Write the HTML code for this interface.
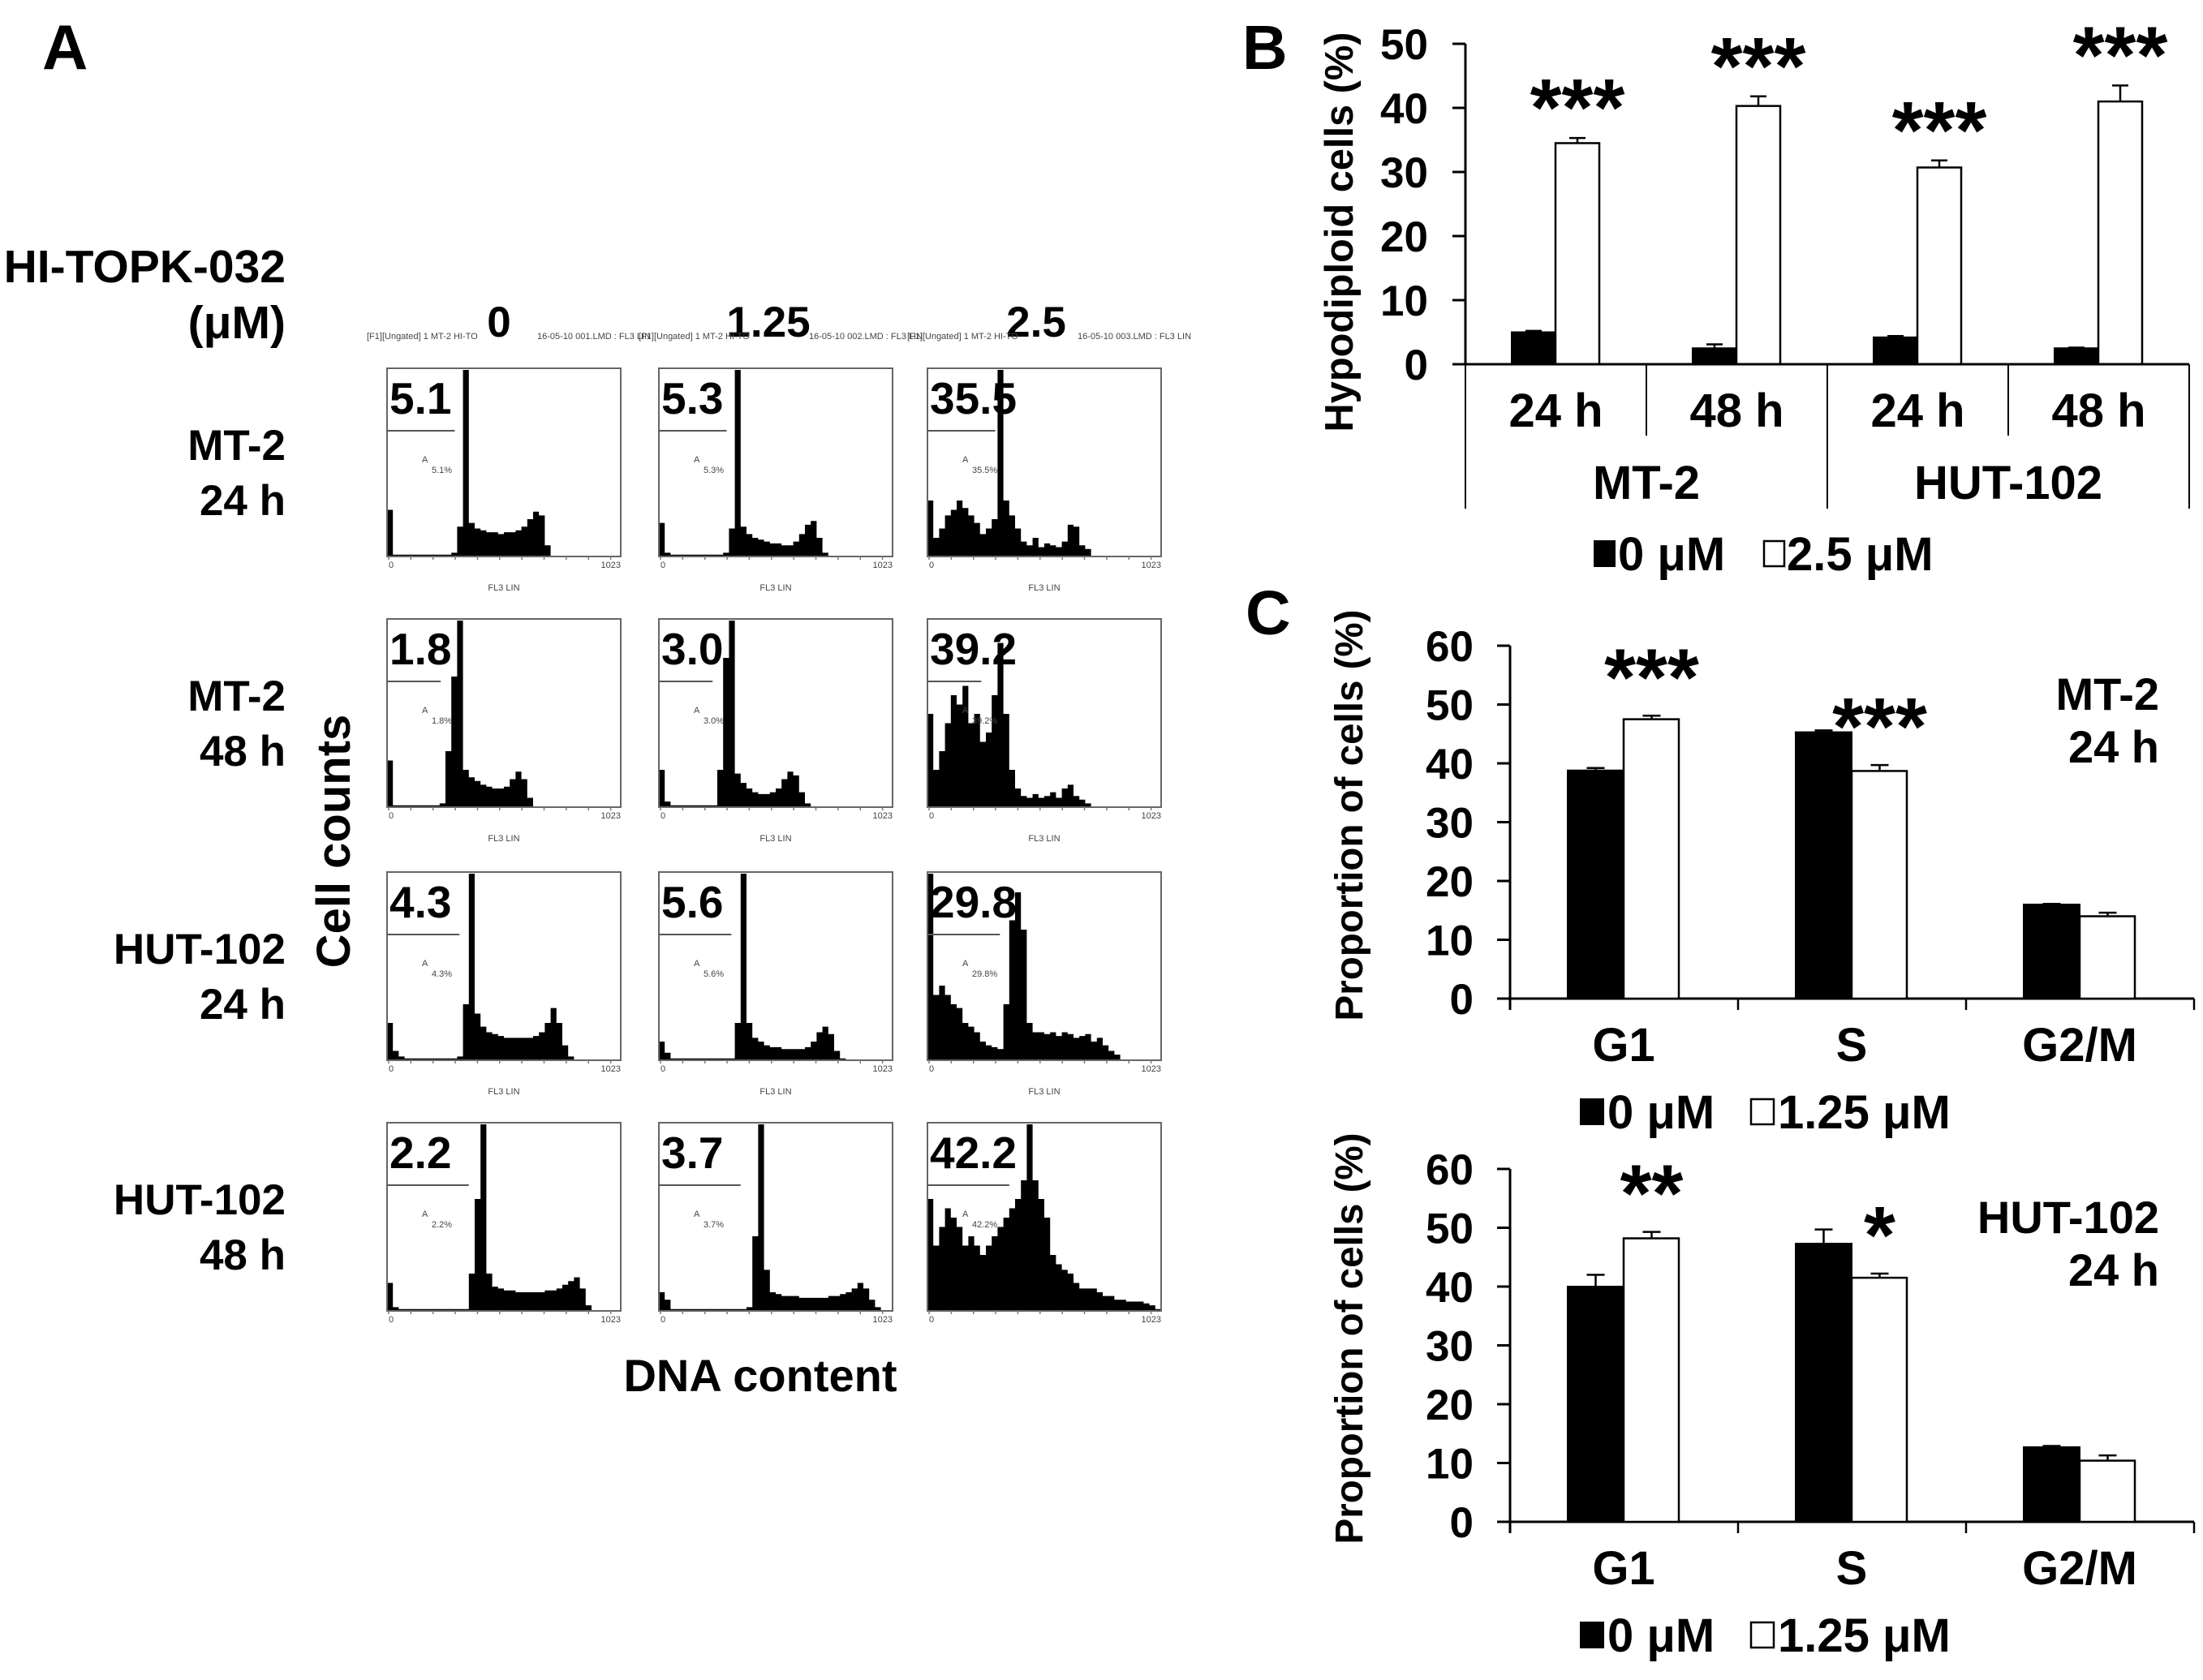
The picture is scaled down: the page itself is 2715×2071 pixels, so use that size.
<!DOCTYPE html>
<html><head><meta charset="utf-8"><style>
html,body{margin:0;padding:0;background:#fff;}
svg text{font-family:"Liberation Sans",Arial,sans-serif;font-weight:bold;fill:#000;}
.tiny{font-size:11px;font-weight:normal;fill:#444;}
</style></head><body>
<svg id="fig" width="2715" height="2066" viewBox="0 0 2715 2066" xmlns="http://www.w3.org/2000/svg">
<rect x="0" y="0" width="2715" height="2066" fill="#fff"/>
<text x="52" y="85" font-size="78">A</text>
<text x="352" y="348" font-size="57" text-anchor="end">HI-TOPK-032</text>
<text x="352" y="417" font-size="57" text-anchor="end">(μM)</text>
<text x="411" y="1037" font-size="58" text-anchor="middle" transform="rotate(-90 411 1037)" dy="20">Cell counts</text>
<text x="937" y="1715" font-size="56" text-anchor="middle">DNA content</text>
<g id="panelA"></g>
<text x="1531" y="85" font-size="77">B</text>
<text x="1650" y="286" font-size="49" text-anchor="middle" dy="17" transform="rotate(-90 1650 286)" textLength="493" lengthAdjust="spacingAndGlyphs">Hypodiploid cells (%)</text>
<g id="panelB"></g>
<text x="1535" y="782" font-size="77">C</text>
<g id="panelC1"></g>
<g id="panelC2"></g>
</svg>
<script>
const NS='http://www.w3.org/2000/svg';
const doseLabels=['0','1.25','2.5'];
const rowCells=['MT-2','MT-2','HUT-102','HUT-102'];
const rowTimes=['24 h','48 h','24 h','48 h'];
const hypoLabels=[['5.1','5.3','35.5'],['1.8','3.0','39.2'],['4.3','5.6','29.8'],['2.2','3.7','42.2']];
const gateEnds=[0.29,0.23,0.31,0.35];
const histR1C1=[.25,.01,.01,.01,.01,.01,.01,.01,.01,.01,.01,.02,.16,1,.18,.15,.14,.13,.13,.12,.13,.13,.14,.16,.2,.24,.22,.06,0,0,0,0,0,0,0,0,0,0,0,0];
const histR1C2=[.18,.02,.01,.01,.01,.01,.01,.01,.01,.01,.01,.02,.15,1,.16,.12,.1,.09,.08,.07,.07,.06,.06,.08,.12,.17,.19,.1,.02,0,0,0,0,0,0,0,0,0,0,0];
const histR1C3=[.3,.1,.15,.22,.25,.3,.26,.22,.18,.12,.15,.2,1,.3,.22,.15,.08,.06,.1,.05,.07,.06,.05,.08,.17,.16,.06,.04,0,0,0,0,0,0,0,0,0,0,0,0];
const histR2C1=[.25,.01,.01,.01,.01,.01,.01,.01,.01,.02,.3,.7,1,.2,.16,.14,.12,.11,.1,.1,.11,.15,.19,.15,.05,0,0,0,0,0,0,0,0,0,0,0,0,0,0,0];
const histR2C2=[.2,.03,.01,.01,.01,.01,.01,.01,.01,.01,.2,.8,1,.18,.13,.1,.08,.07,.07,.08,.1,.15,.19,.17,.08,.02,0,0,0,0,0,0,0,0,0,0,0,0,0,0];
const histR2C3=[.5,.2,.3,.45,.6,.55,.65,.45,.5,.35,.4,.6,.88,.5,.2,.1,.06,.05,.07,.05,.06,.08,.05,.1,.12,.06,.04,.02,0,0,0,0,0,0,0,0,0,0,0,0];
const histR3C1=[.2,.05,.02,.01,.01,.01,.01,.01,.01,.01,.01,.01,.02,.3,1,.25,.18,.15,.14,.13,.12,.12,.12,.12,.12,.13,.15,.2,.28,.2,.08,.02,0,0,0,0,0,0,0,0];
const histR3C2=[.1,.04,.01,.01,.01,.01,.01,.01,.01,.01,.01,.01,.01,.2,1,.2,.12,.1,.08,.07,.07,.06,.06,.06,.06,.07,.1,.15,.18,.14,.05,.01,0,0,0,0,0,0,0,0];
const histR3C3=[1,.35,.4,.35,.3,.28,.2,.18,.15,.1,.08,.07,.06,.3,.75,.9,.7,.2,.15,.15,.14,.15,.13,.15,.14,.12,.13,.14,.1,.12,.08,.05,.03,0,0,0,0,0,0,0];
const histR4C1=[.15,.02,.01,.01,.01,.01,.01,.01,.01,.01,.01,.01,.01,.01,.2,.6,1,.2,.13,.12,.11,.11,.1,.1,.1,.1,.1,.11,.11,.12,.14,.16,.18,.12,.03,0,0,0,0,0];
const histR4C2=[.1,.06,.01,.01,.01,.01,.01,.01,.01,.01,.01,.01,.01,.01,.01,.02,.4,1,.22,.1,.09,.08,.08,.08,.07,.07,.07,.07,.07,.08,.08,.09,.1,.12,.15,.12,.06,.02,0,0];
const histR4C3=[.6,.35,.45,.55,.5,.45,.35,.4,.35,.3,.35,.4,.45,.5,.55,.6,.7,1,.7,.6,.5,.3,.25,.22,.2,.15,.12,.12,.12,.1,.08,.08,.06,.06,.05,.05,.05,.04,.03,.01];
const histSets=[[histR1C1,histR1C2,histR1C3],[histR2C1,histR2C2,histR2C3],[histR3C1,histR3C2,histR3C3],[histR4C1,histR4C2,histR4C3]];

const bTimes=['24 h','48 h','24 h','48 h'];
const bCells=['MT-2','HUT-102'];
const bCtrl=[5,2.5,4.2,2.5];
const bCtrlErr=[0.2,0.6,0.2,0.1];
const bTreat=[34.5,40.3,30.7,41];
const bTreatErr=[0.8,1.5,1.1,2.5];
const bStars=['***','***','***','***'];
const bTicks=[0,10,20,30,40,50];
const bLegend=['0 μM','2.5 μM'];

const cPhases=['G1','S','G2/M'];
const cTicks=[0,10,20,30,40,50,60];
const cLegend=['0 μM','1.25 μM'];
const c1Ctrl=[38.8,45.3,16];
const c1CtrlErr=[0.4,0.3,0.1];
const c1Treat=[47.5,38.7,14];
const c1TreatErr=[0.6,1.0,0.6];
const c1Stars=['***','***',''];
const c2Ctrl=[40,47.3,12.7];
const c2CtrlErr=[2,2.4,0.2];
const c2Treat=[48.2,41.5,10.4];
const c2TreatErr=[1.1,0.7,0.9];
const c2Stars=['**','*',''];

function mk(parent,tag,attrs,txt){
  const e=document.createElementNS(NS,tag);
  for(const k in attrs) e.setAttribute(k,attrs[k]);
  if(txt!==undefined) e.textContent=txt;
  parent.appendChild(e);
  return e;
}

(function(){
  const g=document.getElementById('panelA');
  const boxX=[477,812,1143], boxY=[454,763,1075,1384], BW=288, BH=232;
  const colCx=[615,947,1277];
  doseLabels.forEach((d,i)=>{
    const t=mk(g,'text',{x:colCx[i],y:415,'font-size':53,'text-anchor':'middle'},d);
    
    
    const t1=mk(g,'text',{x:boxX[i]-25,y:418,class:'tiny'},'[F1][Ungated] 1 MT-2 HI-TO');
    
    
    const t2=mk(g,'text',{x:boxX[i]+185,y:418,class:'tiny'},'16-05-10 00'+(i+1)+'.LMD : FL3 LIN');
    
    
  });
  rowCells.forEach((c,r)=>{
    const t=mk(g,'text',{x:352,y:boxY[r]+113,'font-size':53,'text-anchor':'end'},c);
    
    
    const t2=mk(g,'text',{x:352,y:boxY[r]+181,'font-size':53,'text-anchor':'end'},rowTimes[r]);
    
    
    for(let c2=0;c2<3;c2++){
      const x0=boxX[c2], y0=boxY[r];
      const vals=histSets[r][c2];
      const n=vals.length, bw=BW/n;
      let d='M'+x0+','+(y0+BH);
      vals.forEach((v,k)=>{
        const yy=y0+BH-v*(BH-2);
        d+=' L'+(x0+k*bw).toFixed(1)+','+yy.toFixed(1)+' L'+(x0+(k+1)*bw).toFixed(1)+','+yy.toFixed(1);
      });
      d+=' L'+(x0+BW)+','+(y0+BH)+' Z';
      const p=mk(g,'path',{d:d,fill:'#000',stroke:'none'});
      
      
      const b=mk(g,'rect',{x:x0,y:y0,width:BW,height:BH,fill:'none',stroke:'#666','stroke-width':2});
      
      
      for(let k=0;k<=10;k++){
        const tk=mk(g,'line',{x1:x0+k*BW/10*0.95+2,x2:x0+k*BW/10*0.95+2,y1:y0+BH,y2:y0+BH+4,stroke:'#777','stroke-width':1.5});
        
        
      }
      const gl=mk(g,'line',{x1:x0,x2:x0+BW*gateEnds[r],y1:y0+77,y2:y0+77,stroke:'#555','stroke-width':2});
      
      
      const num=mk(g,'text',{x:x0+3,y:y0+56,'font-size':55},hypoLabels[r][c2]);
      
      
      const a=mk(g,'text',{x:x0+43,y:y0+116,class:'tiny'},'A');
      
      
      const ap=mk(g,'text',{x:x0+55,y:y0+129,class:'tiny'},hypoLabels[r][c2]+'%');
      
      
      const z=mk(g,'text',{x:x0+2,y:y0+BH+14,class:'tiny'},'0');
      
      
      const mx=mk(g,'text',{x:x0+BW,y:y0+BH+14,class:'tiny','text-anchor':'end'},'1023');
      
      
      if(r<3){
        const fl=mk(g,'text',{x:x0+BW/2,y:y0+BH+42,class:'tiny','text-anchor':'middle'},'FL3 LIN');
        
        
      }
    }
  });
})();

(function(){
  const g=document.getElementById('panelB');
  const ax=1806, y0=449, ppu=7.9, gw=223, bw=54;
  const ys=v=>y0-v*ppu;
  const axl=mk(g,'line',{x1:ax,x2:ax,y1:ys(50),y2:y0,stroke:'#000','stroke-width':3});
  
  
  bTicks.forEach(t=>{
    const l=mk(g,'line',{x1:ax-16,x2:ax,y1:ys(t),y2:ys(t),stroke:'#000','stroke-width':3});
    
    
    const tx=mk(g,'text',{x:1760,y:ys(t)+19,'font-size':53,'text-anchor':'end'},String(t));
    
    
  });
  bTimes.forEach((tm,i)=>{
    const gs=ax+i*gw;
    const bc=mk(g,'rect',{x:gs+57,y:ys(bCtrl[i]),width:bw,height:bCtrl[i]*ppu,fill:'#000',stroke:'#000','stroke-width':2});
    
    
    const bt=mk(g,'rect',{x:gs+57+bw,y:ys(bTreat[i]),width:bw,height:bTreat[i]*ppu,fill:'#fff',stroke:'#000','stroke-width':2.5});
    
    
    [[bCtrl[i],bCtrlErr[i],gs+57+bw/2],[bTreat[i],bTreatErr[i],gs+57+bw*1.5]].forEach(([v,e,cx])=>{
      const el=mk(g,'path',{d:`M${cx},${ys(v)} V${ys(v+e)} M${cx-10},${ys(v+e)} H${cx+10}`,stroke:'#000','stroke-width':2.5,fill:'none'});
      
      
    });
    const st=mk(g,'text',{x:gs+57+bw*1.5,y:ys(bTreat[i]+bTreatErr[i])-3,'font-size':100,'text-anchor':'middle'},bStars[i]);
    
    
    const lb=mk(g,'text',{x:gs+gw/2,y:526,'font-size':58,'text-anchor':'middle'},tm);
    
    
    const sep=mk(g,'line',{x1:gs+gw,x2:gs+gw,y1:y0,y2:(i%2===1)?627:537,stroke:'#000','stroke-width':2});
    
    
  });
  const left=mk(g,'line',{x1:ax,x2:ax,y1:y0,y2:627,stroke:'#000','stroke-width':2});
  
  
  const xl=mk(g,'line',{x1:1790,x2:ax+4*gw,y1:y0,y2:y0,stroke:'#000','stroke-width':3});
  
  
  bCells.forEach((c,i)=>{
    const t=mk(g,'text',{x:ax+gw*(2*i+1),y:615,'font-size':58,'text-anchor':'middle'},c);
    
    
  });
  const s1=mk(g,'rect',{x:1964,y:666,width:27,height:33,fill:'#000'});
  
  
  const l1=mk(g,'text',{x:1994,y:703,'font-size':58},bLegend[0]);
  
  
  const s2=mk(g,'rect',{x:2174,y:667,width:25,height:31,fill:'#fff',stroke:'#000','stroke-width':2.5});
  
  
  const l2=mk(g,'text',{x:2202,y:703,'font-size':58},bLegend[1]);
  
  
})();

function drawC(id,y0,ctrl,ctrlErr,treat,treatErr,stars,cell){
  const g=document.getElementById(id);
  const ax=1861, ppu=7.25, gw=281, bw=69;
  const ys=v=>y0-v*ppu;
  const t=mk(g,'text',{x:1662,y:y0-226,'font-size':48,'text-anchor':'middle',dy:17,transform:`rotate(-90 1662 ${y0-226})`,textLength:507,lengthAdjust:'spacingAndGlyphs'},'Proportion of cells (%)');
  
  
  const axl=mk(g,'line',{x1:ax,x2:ax,y1:ys(60),y2:y0+14,stroke:'#000','stroke-width':3});
  
  
  cTicks.forEach(v=>{
    const l=mk(g,'line',{x1:ax-16,x2:ax,y1:ys(v),y2:ys(v),stroke:'#000','stroke-width':3});
    
    
    const tx=mk(g,'text',{x:1816,y:ys(v)+19,'font-size':53,'text-anchor':'end'},String(v));
    
    
  });
  const xl=mk(g,'line',{x1:1845,x2:ax+3*gw,y1:y0,y2:y0,stroke:'#000','stroke-width':3});
  
  
  cPhases.forEach((p,i)=>{
    const gs=ax+i*gw;
    const tk=mk(g,'line',{x1:gs+gw,x2:gs+gw,y1:y0,y2:y0+14,stroke:'#000','stroke-width':2.5});
    
    
    const bc=mk(g,'rect',{x:gs+71,y:ys(ctrl[i]),width:bw,height:ctrl[i]*ppu,fill:'#000',stroke:'#000','stroke-width':2});
    
    
    const bt=mk(g,'rect',{x:gs+71+bw,y:ys(treat[i]),width:bw-1,height:treat[i]*ppu,fill:'#fff',stroke:'#000','stroke-width':2.5});
    
    
    [[ctrl[i],ctrlErr[i],gs+71+bw/2],[treat[i],treatErr[i],gs+71+bw*1.5]].forEach(([v,e,cx])=>{
      const el=mk(g,'path',{d:`M${cx},${ys(v)} V${ys(v+e)} M${cx-11},${ys(v+e)} H${cx+11}`,stroke:'#000','stroke-width':2.5,fill:'none'});
      
      
    });
    if(stars[i]){
      const st=mk(g,'text',{x:gs+71+bw*1.5,y:ys(treat[i]+treatErr[i])-13,'font-size':100,'text-anchor':'middle'},stars[i]);
      
      
    }
    const lb=mk(g,'text',{x:gs+71+bw,y:y0+77,'font-size':58,'text-anchor':'middle'},p);
    
    
  });
  const cl=mk(g,'text',{x:2661,y:y0-356,'font-size':56,'text-anchor':'end'},cell);
  
  
  const tl=mk(g,'text',{x:2661,y:y0-291,'font-size':56,'text-anchor':'end'},'24 h');
  
  
  const s1=mk(g,'rect',{x:1947,y:y0+123,width:30,height:33,fill:'#000'});
  
  
  const l1=mk(g,'text',{x:1981,y:y0+160,'font-size':58},cLegend[0]);
  
  
  const s2=mk(g,'rect',{x:2158,y:y0+124,width:28,height:31,fill:'#fff',stroke:'#000','stroke-width':2.5});
  
  
  const l2=mk(g,'text',{x:2191,y:y0+160,'font-size':58},cLegend[1]);
  
  
}
drawC('panelC1',1231,c1Ctrl,c1CtrlErr,c1Treat,c1TreatErr,c1Stars,'MT-2');
drawC('panelC2',1876,c2Ctrl,c2CtrlErr,c2Treat,c2TreatErr,c2Stars,'HUT-102');
</script>
</body></html>
